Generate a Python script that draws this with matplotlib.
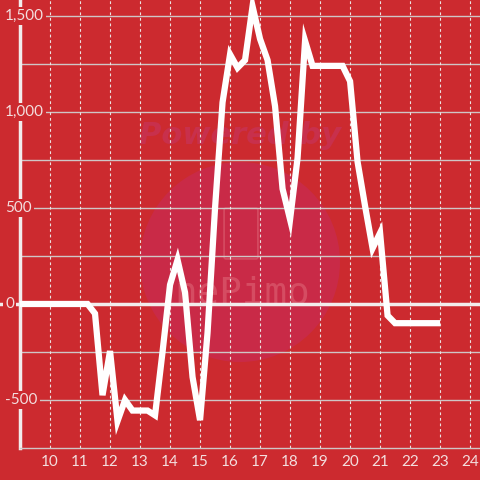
import matplotlib
matplotlib.use('Agg')
import matplotlib.pyplot as plt
from matplotlib.patches import Circle, FancyBboxPatch
import numpy as np

# Values (x = hour of day, y = value)
hours = [9.0, 9.25, 9.5, 9.75, 10.0, 10.25, 10.5, 10.75, 11.0, 11.25,
         11.5, 11.75, 12.0, 12.25, 12.5, 12.75, 13.0, 13.25, 13.5,
         13.75, 14.0, 14.25, 14.5, 14.75, 15.0, 15.25, 15.5, 15.75,
         16.0, 16.25, 16.5, 16.75, 17.0, 17.25, 17.5, 17.75, 18.0,
         18.25, 18.5, 18.75, 19.0, 19.25, 19.5, 19.75, 20.0, 20.25,
         20.5, 20.75, 21.0, 21.25, 21.5, 21.75, 22.0, 22.25, 22.5,
         22.75, 23.0]
values = [0, 0, 0, 0, 0, 0, 0, 0, 0, 0,
          -50, -475, -245, -610, -500, -555, -555, -555, -580,
          -250, 100, 230, 60, -380, -605, -150, 500, 1050,
          1300, 1230, 1270, 1550, 1380, 1270, 1030, 600, 440,
          760, 1370, 1240, 1240, 1240, 1240, 1240, 1160, 740,
          510, 290, 370, -60, -100, -100, -100, -100, -100,
          -100, -100]

x_ticks = list(range(10, 25))
y_grid = [-500, -250, 0, 250, 500, 750, 1000, 1250, 1500]
y_labels = [-500, 0, 500, 1000, 1500]

bg = '#cc2a2f'
txt = '#f3dede'
font = 'Lato'

fig = plt.figure(figsize=(4.8, 4.8), dpi=100, facecolor=bg)
ax = fig.add_axes([20 / 480, 32 / 480, 460 / 480, 448 / 480], facecolor=bg)
ax.set_xlim(9, 24.33)
ax.set_ylim(-750, 1583)

# watermark (behind the grid)
ax.add_patch(Circle((0.5, 1 - 262 / 480), 100 / 480, transform=fig.transFigure,
                    facecolor='#c92a47', edgecolor='none', zorder=0.2))
ax.text(0.50, 1 - 136 / 480, 'Powered by', transform=fig.transFigure, ha='center',
        va='center', fontsize=22, fontweight='bold', style='italic', color='#c8304c',
        family='DejaVu Sans', zorder=0.2)
ax.text(0.505, 1 - 293 / 480, 'nePimo', transform=fig.transFigure, ha='center',
        va='center', fontsize=27, color='#d54c62', family='DejaVu Sans Mono', zorder=0.3)
ax.add_patch(FancyBboxPatch((226 / 480, 1 - 257 / 480), 30 / 480, 47 / 480,
                            boxstyle='round,pad=0.004', transform=fig.transFigure,
                            facecolor='none', edgecolor='#d54c62', lw=1.2, zorder=0.3))

# grid
for v in y_grid:
    if v != 0:
        ax.axhline(v, color='#cfc6c6', lw=1, zorder=1)
for t in x_ticks:
    ax.axvline(t, color='#ece2e2', lw=0.8, linestyle=(0, (2.5, 2.5)), zorder=1)
ax.axhline(0, xmin=-20 / 460, color='#f2ecec', lw=2.5, clip_on=False, zorder=2)

for s in ['top', 'right']:
    ax.spines[s].set_visible(False)
ax.spines['left'].set_color('#f2ecec')
ax.spines['left'].set_linewidth(2.5)
ax.spines['bottom'].set_color('#cfc6c6')
ax.spines['bottom'].set_linewidth(1)

ax.set_yticks([])
ax.set_xticks(x_ticks)
ax.set_xticklabels([str(t) for t in x_ticks], fontsize=11, color=txt, family=font)
ax.tick_params(axis='x', length=0, pad=5)

for v in y_labels:
    ax.text(-15 / 460, v, f'{v:,}', transform=ax.get_yaxis_transform(), ha='left',
            va='center', fontsize=11, color=txt, family=font, clip_on=False, zorder=6,
            bbox=dict(facecolor=bg, edgecolor='none', pad=1.5))

ax.plot(hours, values, color='white', lw=4.5, solid_joinstyle='miter',
        solid_capstyle='butt', zorder=4)

fig.savefig('out.png', dpi=100, facecolor=bg)
